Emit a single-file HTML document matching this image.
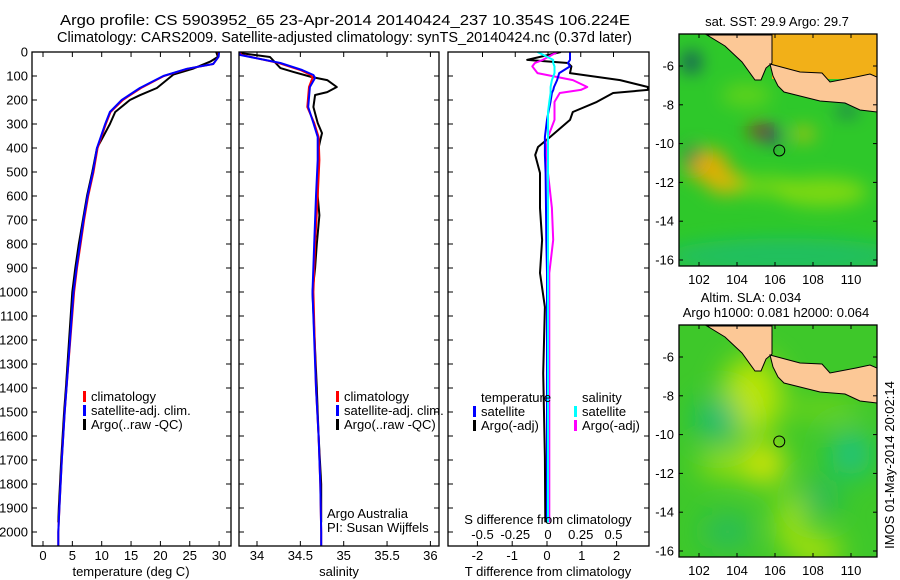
<!DOCTYPE html>
<html><head><meta charset="utf-8"><style>
html,body{margin:0;padding:0;background:#fff;}
svg{display:block;font-family:"Liberation Sans",sans-serif;}
text{font-size:13px;fill:#000;}
</style></head><body>
<svg id="fig" width="900" height="580" viewBox="0 0 900 580" xmlns="http://www.w3.org/2000/svg">
<defs>
<filter id="blur1" x="-50%" y="-50%" width="200%" height="200%"><feGaussianBlur stdDeviation="9"/></filter>
<filter id="blur2" x="-50%" y="-50%" width="200%" height="200%"><feGaussianBlur stdDeviation="14"/></filter>
<clipPath id="clipP1"><rect x="32" y="52" width="199" height="494"/></clipPath>
<clipPath id="clipP2"><rect x="239" y="52" width="200" height="494"/></clipPath>
<clipPath id="clipP3"><rect x="448" y="52" width="201" height="494"/></clipPath>
<clipPath id="clipM1"><rect x="679" y="34" width="198" height="232"/></clipPath>
<clipPath id="clipM2"><rect x="679" y="325" width="198" height="232"/></clipPath>
</defs>
<text x="60" y="25" textLength="570" lengthAdjust="spacingAndGlyphs" style="font-size:14.5px">Argo profile: CS 5903952_65 23-Apr-2014 20140424_237 10.354S 106.224E</text>
<text x="57" y="42" textLength="575" lengthAdjust="spacingAndGlyphs" style="font-size:14.5px">Climatology: CARS2009. Satellite-adjusted climatology: synTS_20140424.nc (0.37d later)</text>
<g id="g1"></g>
<g id="g2"></g>
<g id="g3"></g>
<g id="m1"></g>
<g id="m2"></g>
<text transform="translate(894,465) rotate(-90)" text-anchor="middle">IMOS 01-May-2014 20:02:14</text>
</svg>
<script>
// ---- data ----
const tDepth = [0,20,50,70,100,150,200,250,300,400,500,600,700,800,900,1000,1400,1500,1700,1800,1900,2000,2060];
const tClim  = [29.9,29.9,29.0,24.6,20.6,16.7,13.6,11.5,10.7,9.3,8.6,7.7,7.0,6.4,5.8,5.3,4.0,3.7,3.2,3.0,2.8,2.6,2.6];
const tSat   = [30.0,29.9,29.0,24.5,20.5,16.5,13.4,11.4,10.6,9.2,8.5,7.6,6.9,6.3,5.7,5.2,4.0,3.7,3.2,3.0,2.8,2.6,2.6];
const argoTDepth = [0,20,40,70,94,150,180,200,250,300,350,400,500,600,700,800,900,1000,1400,1500,1700,1800,1900,1960];
const argoT      = [29.5,29.8,28.5,25.5,22.2,19.4,16.5,14.8,12.3,11.4,10.3,9.2,8.4,7.5,6.8,6.1,5.5,5.0,3.9,3.6,3.1,2.9,2.7,2.6];

const sDepth = [0,12,46,75,96,108,146,229,296,354,450,600,800,1000,1400,1600,1800,2000,2060];
const sClim  = [33.8,33.82,34.25,34.5,34.62,34.64,34.6,34.58,34.66,34.71,34.72,34.7,34.67,34.65,34.68,34.71,34.73,34.74,34.74];
const sSat   = [33.8,33.8,34.27,34.52,34.65,34.67,34.61,34.59,34.65,34.70,34.70,34.68,34.66,34.64,34.68,34.71,34.73,34.74,34.74];
const argoSDepth = [4,21,67,83,104,117,146,167,179,229,296,338,367,400,500,600,680,800,900,1000,1400,1600,1800,1960];
const argoS      = [33.8,34.15,34.27,34.42,34.63,34.81,34.92,34.81,34.67,34.65,34.7,34.75,34.73,34.71,34.70,34.70,34.72,34.69,34.67,34.64,34.69,34.71,34.74,34.74];

const dDepth = [0,33,46,60,88,117,146,158,171,208,250,283,354,396,429,504,650,783,921,1063,1338,1688,1960];
const dTArgo = [0.4,-0.57,0.6,0.7,0.66,2.1,2.9,2.9,1.9,1.43,0.74,0.66,0.09,-0.26,-0.34,-0.2,-0.2,-0.14,-0.2,-0.06,-0.11,-0.06,-0.05];
const dTSat  = [0.66,0.66,0.6,0.66,0.35,0.29,0.2,0.18,0.14,0.1,0.04,0.0,-0.06,-0.06,-0.06,-0.04,-0.03,-0.02,0.0,0.0,0.0,0.0,0.0];
const dSArgo = [0.07,-0.04,-0.1,-0.12,-0.08,0.19,0.3,0.25,0.09,0.05,0.05,0.05,0.0,-0.01,-0.01,0.0,0.03,0.04,0.01,0.01,0.01,0.01,0.01];
const dSSat  = [-0.08,0.04,0.04,0.05,0.05,0.03,0.02,0.02,0.02,0.01,0.0,0.0,0.0,0.0,0.0,0.0,0.0,0.0,0.0,0.0,0.0,0.0,0.0];

const depthTicks = [0,100,200,300,400,500,600,700,800,900,1000,1100,1200,1300,1400,1500,1600,1700,1800,1900,2000];
const tTicks = [0,5,10,15,20,25,30];
const sTicks = [34,34.5,35,35.5,36];
const dTTicks = [-2,-1,0,1,2];
const dSTicks = [-0.5,-0.25,0,0.25,0.5];
const lonTicks = [102,104,106,108,110];
const latTicks = [-6,-8,-10,-12,-14,-16];
const argoLon = 106.224, argoLat = -10.354;

// ---- scales ----
const yD = d => 52 + d*0.24;
const xT = t => 43 + t*5.87;
const xS = s => 257 + (s-34)*86.7;
const xDT = v => 547 + v*34.8;
const xDS = v => 548 + v*131;
const NS = 'http://www.w3.org/2000/svg';
function mk(tag, attrs, parent){ const e=document.createElementNS(NS,tag); for(const k in attrs) e.setAttribute(k,attrs[k]); parent.appendChild(e); return e; }
function txt(parent, x, y, s, anchor){ const t=mk('text',{x:x,y:y,'text-anchor':anchor||'start'},parent); t.textContent=s; return t; }
function stepPath(xs, ds, fx){ let p=''; for(let i=0;i<xs.length;i++){ p+=(i?'L':'M')+fx(xs[i]).toFixed(1)+' '+yD(ds[i]).toFixed(1); } return p; }

function frame(g, x0, x1, y0, y1){
  const r = mk('rect',{x:x0,y:y0,width:x1-x0,height:y1-y0,fill:'none',stroke:'#000','stroke-width':1.3},g);
  
  
}
function profileLine(g, xs, ds, fx, color, name, w){
  const p = mk('path',{d:stepPath(xs,ds,fx),fill:'none',stroke:color,'stroke-width':w||2,'stroke-linejoin':'round'},g);
  
  
}
function legend(g, x, y, color, label){
  const b = mk('rect',{x:x,y:y-10,width:3,height:11,fill:color},g);
  
  
  const t = txt(g, x+8, y, label);
  
  
}

// ---- panel 1: temperature ----
const g1 = document.getElementById('g1');
depthTicks.forEach(d=>{
  const t = txt(g1, 28, yD(d)+4.5, String(d), 'end');
  
  
  mk('line',{x1:32,x2:37,y1:yD(d),y2:yD(d),stroke:'#000'},g1);
  mk('line',{x1:226,x2:231,y1:yD(d),y2:yD(d),stroke:'#000'},g1);
  mk('line',{x1:239,x2:244,y1:yD(d),y2:yD(d),stroke:'#000'},g1);
  mk('line',{x1:434,x2:439,y1:yD(d),y2:yD(d),stroke:'#000'},g1);
  mk('line',{x1:448,x2:453,y1:yD(d),y2:yD(d),stroke:'#000'},g1);
  mk('line',{x1:644,x2:649,y1:yD(d),y2:yD(d),stroke:'#000'},g1);
});
tTicks.forEach(v=>{
  mk('line',{x1:xT(v),x2:xT(v),y1:52,y2:57,stroke:'#000'},g1);
  mk('line',{x1:xT(v),x2:xT(v),y1:541,y2:546,stroke:'#000'},g1);
  const t = txt(g1, xT(v), 560, String(v), 'middle');
  
  
});
const g1c = mk('g',{'clip-path':'url(#clipP1)'},g1);
profileLine(g1c, argoT, argoTDepth, xT, '#000', 'argo-temperature-line');
profileLine(g1c, tClim, tDepth, xT, '#f00', 'climatology-temperature-line');
profileLine(g1c, tSat, tDepth, xT, '#00f', 'satellite-temperature-line');
frame(g1,32,231,52,546);
legend(g1, 83, 401, '#f00', 'climatology');
legend(g1, 83, 415, '#00f', 'satellite-adj. clim.');
legend(g1, 83, 429, '#000', 'Argo(..raw -QC)');
let at = txt(g1, 131, 576, 'temperature (deg C)', 'middle');
 

// ---- panel 2: salinity ----
const g2 = document.getElementById('g2');
sTicks.forEach(v=>{
  mk('line',{x1:xS(v),x2:xS(v),y1:52,y2:57,stroke:'#000'},g2);
  mk('line',{x1:xS(v),x2:xS(v),y1:541,y2:546,stroke:'#000'},g2);
  const t = txt(g2, xS(v), 560, String(v), 'middle');
  
  
});
const g2c = mk('g',{'clip-path':'url(#clipP2)'},g2);
profileLine(g2c, argoS, argoSDepth, xS, '#000', 'argo-salinity-line');
profileLine(g2c, sClim, sDepth, xS, '#f00', 'climatology-salinity-line');
profileLine(g2c, sSat, sDepth, xS, '#00f', 'satellite-salinity-line');
frame(g2,239,439,52,546);
legend(g2, 336, 401, '#f00', 'climatology');
legend(g2, 336, 415, '#00f', 'satellite-adj. clim.');
legend(g2, 336, 429, '#000', 'Argo(..raw -QC)');
let a1 = txt(g2, 327, 518, 'Argo Australia');  
let a2 = txt(g2, 327, 532, 'PI: Susan Wijffels');  
let as = txt(g2, 339, 576, 'salinity', 'middle');
 

// ---- panel 3: differences ----
const g3 = document.getElementById('g3');
dTTicks.forEach(v=>{
  mk('line',{x1:xDT(v),x2:xDT(v),y1:541,y2:546,stroke:'#000'},g3);
  const t = txt(g3, xDT(v), 560, String(v), 'middle');
  
  
});
dSTicks.forEach(v=>{
  mk('line',{x1:xDS(v),x2:xDS(v),y1:52,y2:57,stroke:'#000'},g3);
  const t = txt(g3, xDS(v), 539, String(v), 'middle');
  
  
});
const g3c = mk('g',{'clip-path':'url(#clipP3)'},g3);
profileLine(g3c, dTArgo, dDepth, xDT, '#000', 'argo-t-diff-line');
profileLine(g3c, dSArgo, dDepth, xDS, '#f0f', 'argo-s-diff-line');
profileLine(g3c, dTSat, dDepth, xDT, '#00f', 'satellite-t-diff-line');
profileLine(g3c, dSSat, dDepth, xDS, '#0ff', 'satellite-s-diff-line');
frame(g3,448,649,52,546);
let lt = txt(g3, 481, 402, 'temperature');  
let ls = txt(g3, 582, 402, 'salinity');  
legend(g3, 473, 416, '#00f', 'satellite');
legend(g3, 473, 430, '#000', 'Argo(-adj)');
legend(g3, 574, 416, '#0ff', 'satellite');
legend(g3, 574, 430, '#f0f', 'Argo(-adj)');
let sd = txt(g3, 548, 524, 'S difference from climatology', 'middle');  
let td = txt(g3, 548, 576, 'T difference from climatology', 'middle');  

// ---- maps ----
const sumatra = [[707,35],[772,35],[772,63],[766,68],[761,80],[755,80],[742,62],[725,46]];
const java = [[770,64],[785,68],[800,72],[822,73],[830,82],[856,77],[870,74],[877,77],[877,112],[860,110],[845,103],[820,101],[800,96],[784,92],[778,86],[773,76]];
function map(id, top, base, blobs, titleLines, javaSea){
  const g = document.getElementById(id);
  const clip = id==='m1'?'url(#clipM1)':'url(#clipM2)';
  const gc = mk('g',{'clip-path':clip},g);
  const bg = mk('rect',{x:679,y:top,width:198,height:232,fill:base},gc);
   
  const gb = mk('g',{filter:id==='m1'?'url(#blur1)':'url(#blur2)'},gc);
  blobs.forEach(b=>{
    const e = mk('ellipse',{cx:699+(b[0]-102)*19,cy:top+32+(-6-b[1])*19.4,rx:b[2],ry:b[3],fill:b[4],opacity:b[5]},gb);
     
  });
  if(javaSea){
    const js = mk('rect',{x:772,y:top,width:105,height:45,fill:javaSea},gc);
     
  }
  const dy = top-34;
  [sumatra, java].forEach((poly,i)=>{
    const p = mk('polygon',{points:poly.map(q=>q[0]+','+(q[1]+dy)).join(' '),fill:'#fcc896',stroke:'#000','stroke-width':1},gc);
     
  });
  const c = mk('circle',{cx:699+(argoLon-102)*19,cy:top+32+(-6-argoLat)*19.4,r:5.5,fill:'none',stroke:'#000','stroke-width':1},g);
   
  const f = mk('rect',{x:679,y:top,width:198,height:232,fill:'none',stroke:'#000','stroke-width':1.3},g);
   
  lonTicks.forEach(v=>{
    const x = 699+(v-102)*19;
    mk('line',{x1:x,x2:x,y1:top,y2:top+4,stroke:'#000'},g);
    mk('line',{x1:x,x2:x,y1:top+228,y2:top+232,stroke:'#000'},g);
    const t = txt(g, x, top+250, String(v), 'middle');
     
  });
  latTicks.forEach(v=>{
    const y = top+32+(-6-v)*19.4;
    mk('line',{x1:679,x2:683,y1:y,y2:y,stroke:'#000'},g);
    mk('line',{x1:873,x2:877,y1:y,y2:y,stroke:'#000'},g);
    const t = txt(g, 674, y+4.5, String(v), 'end');
     
  });
  titleLines.forEach((s,i)=>{
    const t = txt(g, s[1], top - 8 - (titleLines.length-1-i)*15, s[0], 'middle');
     
  });
}
map('m1', 34, '#2ec82a', [
  [102.4,-11.1,22,16,'#f0a800',0.9],[103.4,-12.0,20,12,'#f0b400',0.85],
  [108.5,-12.5,45,14,'#b4e400',0.6],[105.5,-12.2,30,10,'#b4e400',0.5],
  [105.2,-9.3,12,6,'#b00000',0.9],[105.9,-9.6,10,6,'#000090',0.8],
  [107.5,-9.5,12,6,'#f0c000',0.8],[106.5,-15.8,120,18,'#10b88a',0.55],
  [101.6,-5.8,8,10,'#000080',0.8],[101.6,-10.6,5,10,'#000080',0.7],
  [104.5,-7.5,25,12,'#b4e400',0.35],[109.8,-8.3,10,5,'#000090',0.6]
], [['sat. SST: 29.9 Argo: 29.7', 777]], '#f2b018');
map('m2', 325, '#3ec82a', [
  [104.8,-8.0,30,40,'#c8e800',0.9],[105.4,-11.5,22,20,'#e6e800',0.95],
  [103.5,-11.5,30,12,'#c8e800',0.8],[106.8,-14.5,15,30,'#c8e800',0.7],
  [108.2,-16,25,15,'#d0e800',0.8],[103.0,-9.2,22,22,'#10b88a',0.8],
  [110.0,-11.0,20,22,'#10c09a',0.8],[108.4,-13.2,18,18,'#18b080',0.6],
  [103.5,-15.0,25,18,'#20b478',0.6],[108.5,-8.7,40,8,'#b0e400',0.6]
], [['Altim. SLA: 0.034', 751],['Argo h1000: 0.081 h2000: 0.064', 776]], null);
</script>
</body></html>
